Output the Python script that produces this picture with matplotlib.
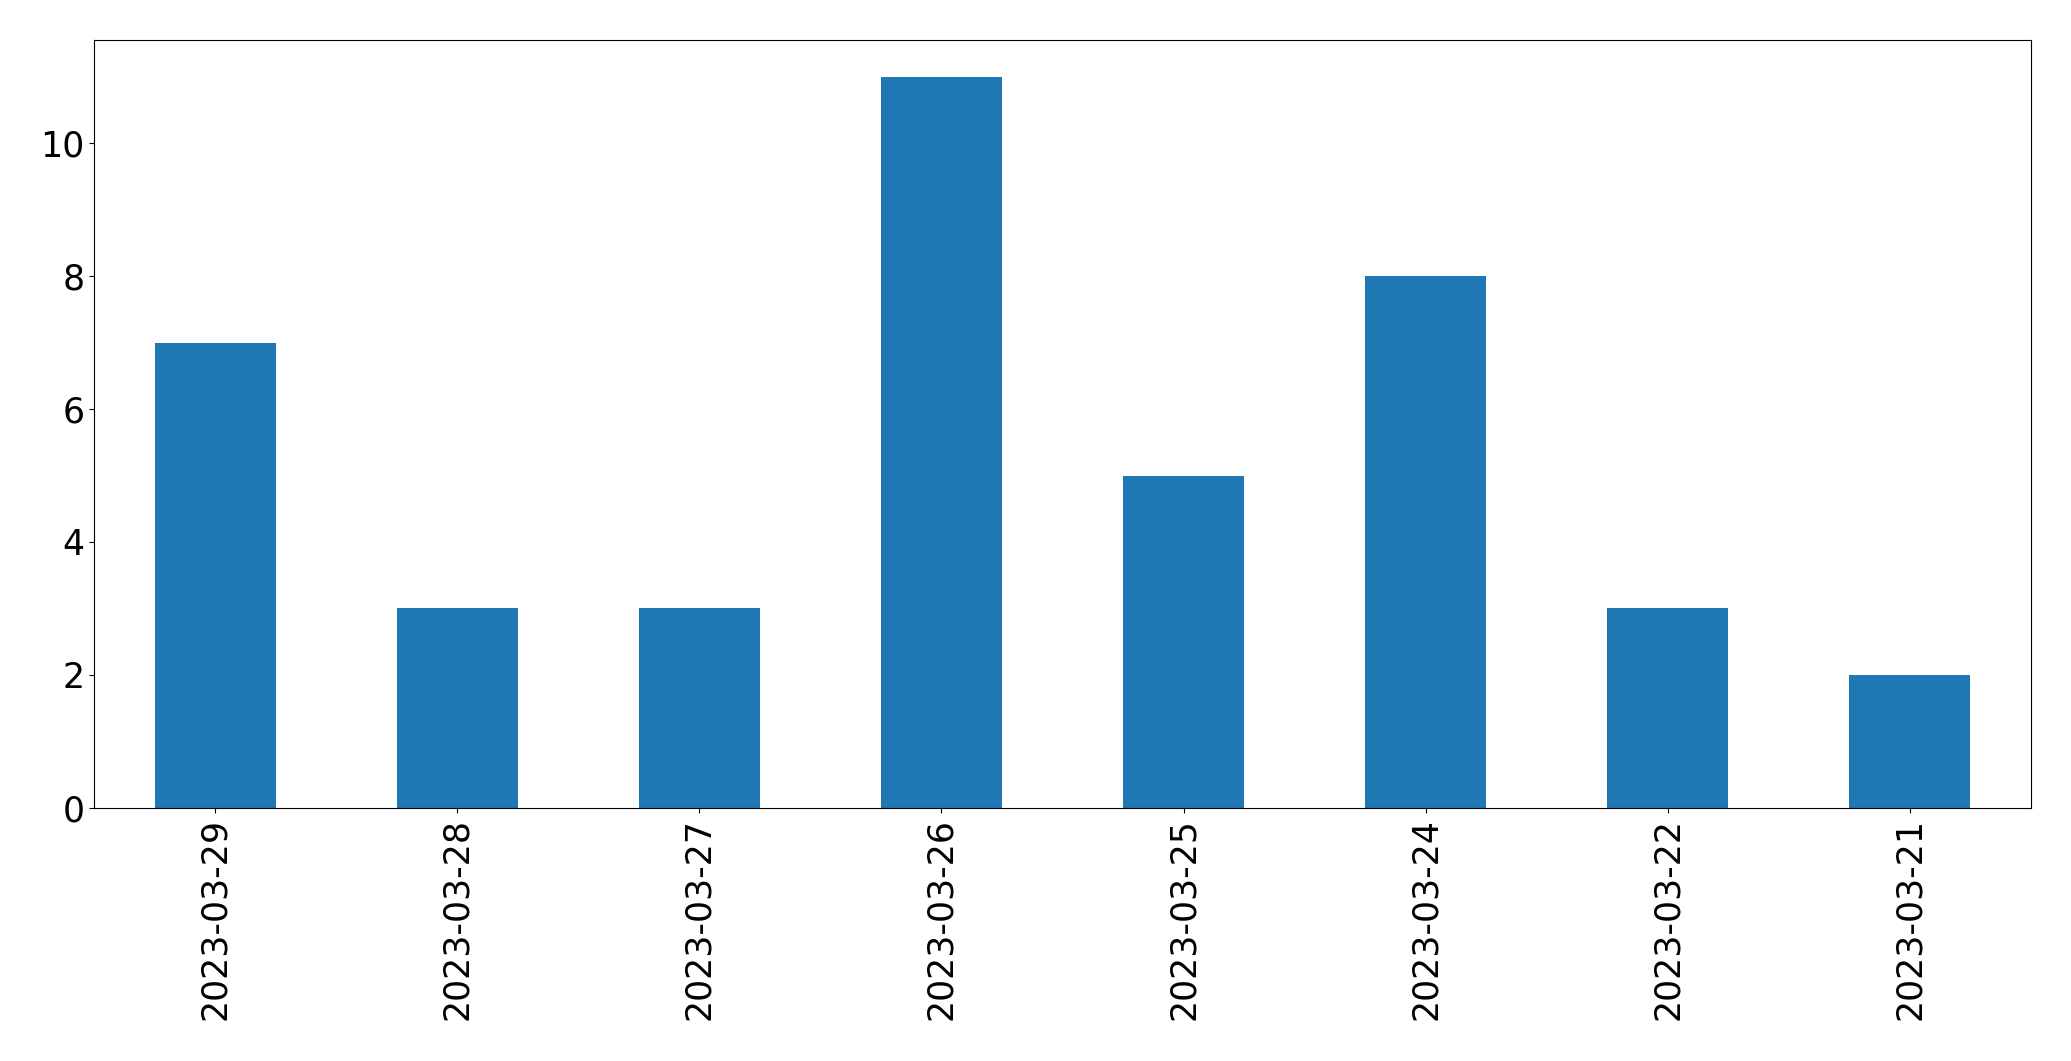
import matplotlib
matplotlib.use('Agg')
import matplotlib.pyplot as plt
import numpy as np

dates = ['2023-03-29', '2023-03-28', '2023-03-27', '2023-03-26',
         '2023-03-25', '2023-03-24', '2023-03-22', '2023-03-21']
counts = [7, 3, 3, 11, 5, 8, 3, 2]

fig = plt.figure(figsize=(20.71, 10.61), dpi=100)
ax = fig.add_axes([0.0454, 0.2385, 0.9353, 0.7238])
x = np.arange(len(dates))
ax.bar(x, counts, width=0.5, color='#1f77b4')
ax.set_xlim(-0.5, len(dates) - 0.5)
ax.set_ylim(0, max(counts) * 1.05)
ax.set_xticks(x)
ax.set_xticklabels(dates, rotation=90)
ax.tick_params(labelsize=25)
fig.savefig('out.png', dpi=100)
